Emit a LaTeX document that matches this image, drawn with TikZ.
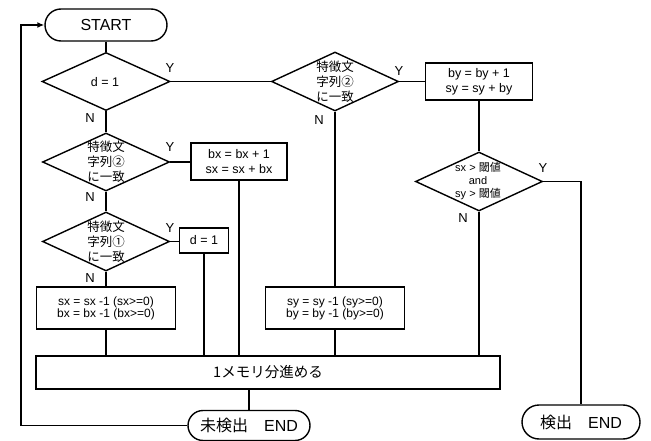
\documentclass[tikz,border=0pt]{standalone}
\usepackage{fontspec}
\setmainfont{Liberation Sans}
\newfontfamily\jp{Noto Sans CJK JP}
\usetikzlibrary{shapes.geometric,shapes.misc,arrows.meta}
\begin{document}
\begin{tikzpicture}[x=1pt,y=-1pt,line width=1.4pt,
  box/.style={draw,rectangle,inner sep=0pt,align=center},
  dia/.style={draw,diamond,inner sep=0pt,minimum width=127pt,minimum height=59pt},
  term/.style={draw,rounded rectangle,inner sep=0pt,font=\fontsize{16}{16}\selectfont},
  dtxt/.style={align=center,inner sep=0pt,font=\jp\fontsize{12.5}{15}\selectfont},
  ftxt/.style={font=\fontsize{12.5}{15}\selectfont},
  yn/.style={inner sep=0pt,font=\fontsize{13}{13}\selectfont},
  conn/.style={draw}
]
\useasboundingbox (0,0) rectangle (651,441);

% terminals
\node[term,minimum width=122pt,minimum height=32pt] (start) at (106,25) {START};
\node[term,minimum width=122pt,minimum height=30pt] (mend) at (249,425.5) {{\jp 未検出　}END};
\node[term,minimum width=118pt,minimum height=34pt] (kend) at (581,422) {{\jp 検出　}END};

% left column
\node[dia,minimum width=128pt,minimum height=58pt] (d1) at (106,81.5) {};
\node[inner sep=0pt,ftxt] (d1t) at (105,82) {d = 1};
\node[dia,minimum height=58pt] (dA) at (106,162) {};
\node[dtxt] (dAt) at (106,162) {特徴文\\字列②\\に一致};
\node[dia] (dB) at (106,241.5) {};
\node[dtxt] (dBt) at (106,242) {特徴文\\字列①\\に一致};
\node[box,minimum width=139pt,minimum height=42pt,font=\fontsize{12}{12}\selectfont] (sx) at (106,308) {sx = sx -1 (sx>=0)\\bx = bx -1 (bx>=0)};

\node[box,ftxt,minimum width=96pt,minimum height=37pt] (bx) at (239,161.5) {bx = bx + 1\\sx = sx + bx};
\node[box,ftxt,minimum width=49pt,minimum height=25pt] (dset) at (204,240.5) {d = 1};

% right part
\node[dia] (dT) at (335,81.5) {};
\node[dtxt] (dTt) at (335,82) {特徴文\\字列②\\に一致};
\node[box,ftxt,minimum width=107pt,minimum height=37pt] (by) at (479,81.5) {by = by + 1\\sy = sy + by};
\node[dia] (d3) at (479,181.5) {};
\node[align=center,inner sep=0pt,font=\fontsize{11}{13}\selectfont] (d3t) at (478,181.5) {sx > {\jp 閾値}\\and\\sy > {\jp 閾値}};
\node[box,font=\fontsize{12}{12}\selectfont,minimum width=139pt,minimum height=42pt] (sy) at (335,308) {sy = sy -1 (sy>=0)\\by = by -1 (by>=0)};

% memory box
\node[box,minimum width=464pt,minimum height=33pt,font=\jp\fontsize{14.5}{15}\selectfont] (mem) at (268,372.5) {1メモリ分進める};

% Y / N labels
\node[yn] (y1) at (170,68) {Y};
\node[yn] (n1) at (90,118) {N};
\node[yn] (y2) at (170,147) {Y};
\node[yn] (n2) at (90,197) {N};
\node[yn] (y3) at (170,228) {Y};
\node[yn] (n3) at (90,278) {N};
\node[yn] (y4) at (399,71) {Y};
\node[yn] (n4) at (319,120) {N};
\node[yn] (y5) at (543,168) {Y};
\node[yn] (n5) at (463,218) {N};

\coordinate (loopb) at (21,425.5);
\coordinate (loopt) at (21,25);
\coordinate (d3r) at (581,181.5);

% connectors
\draw[conn] (start.south) -- (d1.north);
\draw[conn] (d1.south) -- (dA.north);
\draw[conn] (dA.south) -- (dB.north);
\draw[conn] (dB.south) -- (sx.north);
\draw[conn] (dA.east) -- (bx.west |- dA.east);
\draw[conn] (dB.east) -- (dset.west |- dB.east);
\draw[conn] (d1.east) -- (dT.west);
\draw[conn] (dT.east) -- (by.west);
\draw[conn] (by.south) -- (d3.north);
\draw[conn] (dT.south) -- (sy.north);
\draw[conn] (d3.east) -- (d3r) -- (kend.north -| d3r);
\draw[conn] (sx.south) -- (sx.south |- mem.north);
\draw[conn] (dset.south) -- (dset.south |- mem.north);
\draw[conn] (bx.south) -- (bx.south |- mem.north);
\draw[conn] (sy.south) -- (sy.south |- mem.north);
\draw[conn] (d3.south) -- (d3.south |- mem.north);
\draw[conn] (mem.south -| mend.north) -- (mend.north);
\draw[conn,-{Latex[length=7pt,width=6pt]}] (mend.west) -- (loopb) -- (loopt) -- (start.west);
\end{tikzpicture}
\end{document}
